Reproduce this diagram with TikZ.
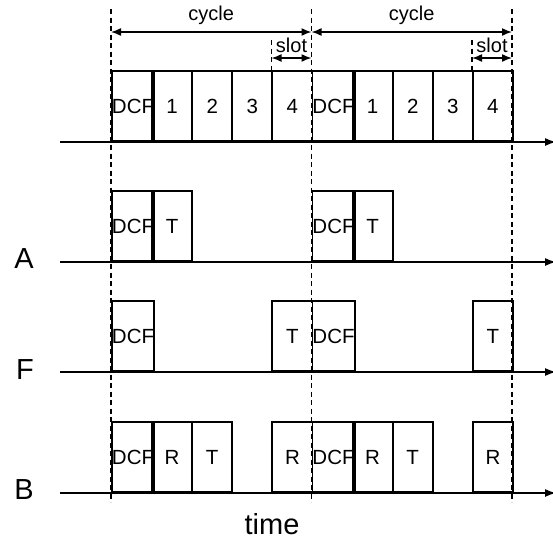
\documentclass[tikz,border=0pt]{standalone}
\usepackage{fontspec}
\setmainfont{Liberation Sans}
\usetikzlibrary{arrows.meta}
\begin{document}
\begin{tikzpicture}[x=1pt,y=-1pt,
  slotbox/.style={draw, line width=1.9pt, minimum width=40.1pt, minimum height=70pt,
    inner sep=0pt, anchor=south west, font=\fontsize{20.5}{20.5}\selectfont},
  axisline/.style={line width=1.5pt, -{Latex[length=11pt,width=8pt]}},
  guide/.style={line width=1.8pt, dash pattern=on 5pt off 3.5pt},
  span/.style={line width=1.5pt, {Latex[length=10pt,width=8pt]}-{Latex[length=10pt,width=8pt]}},
  spanlabel/.style={font=\fontsize{20}{20}\selectfont, inner sep=0pt},
  rowlabel/.style={font=\fontsize{29}{29}\selectfont, inner sep=0pt}
]
\useasboundingbox (0,0) rectangle (553,539);

% time axes
\coordinate (topL) at (60,142);  \coordinate (topR) at (556,142);
\coordinate (aL) at (60,262);    \coordinate (aR) at (556,262);
\coordinate (fL) at (60,372);    \coordinate (fR) at (556,372);
\coordinate (bL) at (60,493);    \coordinate (bR) at (556,493);
\draw[axisline] (topL) -- (topR);
\draw[axisline] (aL) -- (aR);
\draw[axisline] (fL) -- (fR);
\draw[axisline] (bL) -- (bR);

% slot boxes: cycle c starts at 111+200.5c, slot k is 40.1 wide
\foreach \c in {0,1}{
  \foreach \k/\t in {0/DCF,1/1,2/2,3/3,4/4}
    \node[slotbox] (top-\c-\k) at (111+200.5*\c+40.1*\k,142) {\t};
  \foreach \k/\t in {0/DCF,1/T}
    \node[slotbox] (a-\c-\k) at (111+200.5*\c+40.1*\k,262) {\t};
  \foreach \k/\t in {0/DCF,4/T}
    \node[slotbox] (f-\c-\k) at (111+200.5*\c+40.1*\k,372) {\t};
  \foreach \k/\t in {0/DCF,1/R,2/T,4/R}
    \node[slotbox] (b-\c-\k) at (111+200.5*\c+40.1*\k,493) {\t};
}

% cycle boundaries
\foreach \i/\x in {0/111,1/311.5,2/512}{
  \coordinate (g\i top) at (\x,9);
  \coordinate (g\i bot) at (\x,502);
  \draw[guide] (g\i top) -- (g\i bot);
}
% slot boundaries
\foreach \i/\x in {0/271.5,1/472}{
  \coordinate (s\i top) at (\x,40);
  \coordinate (s\i bot) at (\x,72);
  \draw[guide] (s\i top) -- (s\i bot);
}

% cycle and slot spans
\coordinate (c0L) at (111,32);   \coordinate (c0R) at (311.5,32);
\coordinate (c1L) at (311.5,32); \coordinate (c1R) at (512,32);
\draw[span] (c0L) -- node[spanlabel, above=7pt] (cyc0) {cycle} (c0R);
\draw[span] (c1L) -- node[spanlabel, above=7pt] (cyc1) {cycle} (c1R);
\coordinate (sl0L) at (271.5,58); \coordinate (sl0R) at (311.5,58);
\coordinate (sl1L) at (472,58);   \coordinate (sl1R) at (512,58);
\draw[span] (sl0L) -- node[spanlabel, above=5pt] (slt0) {slot} (sl0R);
\draw[span] (sl1L) -- node[spanlabel, above=5pt] (slt1) {slot} (sl1R);

% station labels
\node[rowlabel] (labA) at (24,259) {A};
\node[rowlabel] (labF) at (25,370) {F};
\node[rowlabel] (labB) at (24,490) {B};
\node[rowlabel] (labT) at (272,524) {time};
\end{tikzpicture}
\end{document}
